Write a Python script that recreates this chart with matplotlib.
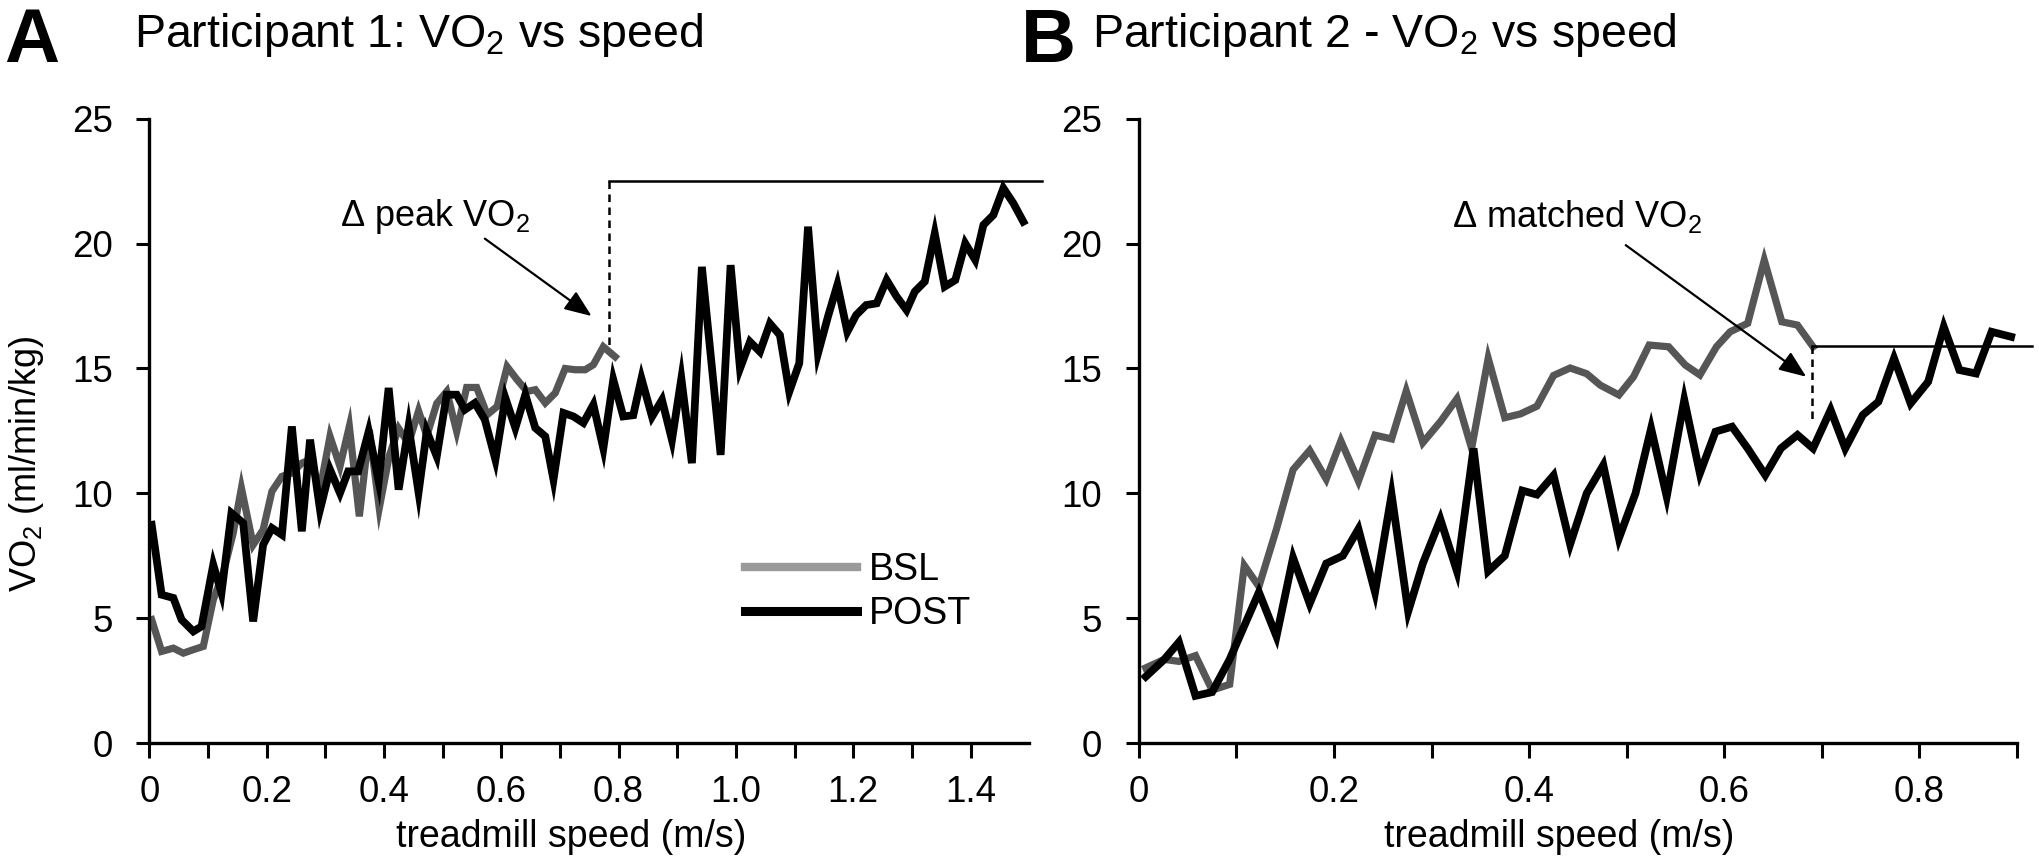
import matplotlib
matplotlib.use("Agg")
import matplotlib.pyplot as plt
from matplotlib.lines import Line2D
from matplotlib.ticker import FixedLocator

plt.rcParams['font.family'] = ['Liberation Sans', 'DejaVu Sans']
plt.rcParams['mathtext.fontset'] = 'custom'
plt.rcParams['mathtext.rm'] = 'Liberation Sans'
plt.rcParams['mathtext.it'] = 'Liberation Sans:italic'
plt.rcParams['mathtext.default'] = 'regular'

# ---------------- data ----------------
# Panel A: Participant 1
a_bsl_x = [0.004, 0.021, 0.041, 0.058, 0.075, 0.092, 0.109, 0.126, 0.143, 0.157,
           0.177, 0.194, 0.209, 0.226, 0.243, 0.260, 0.274, 0.291, 0.308, 0.325,
           0.341, 0.358, 0.375, 0.392, 0.409, 0.425, 0.442, 0.459, 0.473, 0.490,
           0.507, 0.524, 0.541, 0.558, 0.576, 0.593, 0.610, 0.627, 0.644, 0.658,
           0.675, 0.692, 0.709, 0.726, 0.743, 0.757, 0.774, 0.794]
a_bsl_y = [4.94, 3.67, 3.80, 3.60, 3.74, 3.87, 5.74, 6.81, 8.41, 10.21,
           7.94, 8.54, 10.08, 10.68, 10.81, 11.21, 11.35, 10.15, 12.28, 11.08,
           12.68, 9.08, 12.55, 9.41, 11.5, 12.6, 12.0, 13.3, 12.3, 13.6,
           14.08, 12.48, 14.24, 14.24, 13.15, 13.48, 15.07, 14.55, 14.08, 14.15,
           13.62, 14.02, 15.0, 14.95, 14.95, 15.15, 15.87, 15.47]

a_post_x = [0.004, 0.021, 0.041, 0.055, 0.075, 0.089, 0.109, 0.123, 0.140, 0.160,
            0.177, 0.194, 0.209, 0.226, 0.243, 0.260, 0.274, 0.291, 0.308, 0.325,
            0.339, 0.356, 0.374, 0.391, 0.408, 0.425, 0.442, 0.459, 0.473, 0.490,
            0.507, 0.524, 0.538, 0.555, 0.572, 0.590, 0.607, 0.624, 0.641, 0.658,
            0.675, 0.689, 0.706, 0.723, 0.740, 0.757, 0.774, 0.791, 0.808, 0.825,
            0.839, 0.857, 0.874, 0.891, 0.907, 0.925, 0.942, 0.974, 0.991, 1.007,
            1.024, 1.041, 1.058, 1.075, 1.091, 1.108, 1.123, 1.140, 1.157, 1.173,
            1.190, 1.205, 1.222, 1.240, 1.257, 1.274, 1.291, 1.305, 1.322, 1.339,
            1.356, 1.374, 1.391, 1.408, 1.422, 1.439, 1.456, 1.473, 1.490]
a_post_y = [8.74, 5.94, 5.81, 4.94, 4.47, 4.67, 7.14, 6.01, 9.21, 8.81,
            4.87, 7.94, 8.61, 8.34, 12.68, 8.48, 12.15, 9.35, 10.95, 10.01,
            10.88, 10.88, 12.48, 10.48, 14.22, 10.15, 12.68, 10.04, 12.48, 11.48,
            13.95, 13.95, 13.35, 13.62, 12.95, 11.35, 13.82, 12.62, 13.95, 12.62,
            12.28, 10.55, 13.22, 13.08, 12.82, 13.55, 11.80, 14.55, 13.08, 13.13,
            14.6, 13.07, 13.74, 12.14, 14.6, 11.21, 19.07, 11.54, 19.14, 15.0,
            16.07, 15.67, 16.8, 16.34, 14.07, 15.21, 20.68, 15.61, 17.08, 18.35,
            16.47, 17.14, 17.54, 17.61, 18.54, 17.88, 17.34, 18.08, 18.48, 20.41,
            18.28, 18.54, 20.01, 19.35, 20.75, 21.15, 22.22, 21.62, 20.88]

# Panel B: Participant 2
b_bsl_x = [0.007, 0.026, 0.041, 0.058, 0.075, 0.093, 0.108, 0.123, 0.141, 0.158,
           0.175, 0.192, 0.207, 0.225, 0.242, 0.259, 0.274, 0.291, 0.309, 0.326,
           0.341, 0.358, 0.375, 0.391, 0.408, 0.425, 0.442, 0.459, 0.473, 0.492,
           0.507, 0.523, 0.543, 0.560, 0.575, 0.592, 0.606, 0.624, 0.641, 0.659,
           0.675, 0.691]
b_bsl_y = [3.01, 3.35, 3.27, 3.50, 2.12, 2.35, 7.11, 6.27, 8.57, 10.95,
           11.72, 10.57, 12.10, 10.49, 12.33, 12.18, 14.10, 12.03, 12.87, 13.79,
           11.80, 15.41, 13.03, 13.18, 13.49, 14.72, 15.02, 14.79, 14.33, 13.94,
           14.67, 15.94, 15.87, 15.14, 14.74, 15.87, 16.47, 16.81, 19.34, 16.87,
           16.74, 15.87]

b_post_x = [0.007, 0.026, 0.041, 0.058, 0.075, 0.093, 0.123, 0.141, 0.158, 0.175,
            0.192, 0.209, 0.225, 0.242, 0.259, 0.276, 0.291, 0.309, 0.326, 0.343,
            0.358, 0.375, 0.393, 0.408, 0.425, 0.442, 0.459, 0.476, 0.492, 0.509,
            0.525, 0.541, 0.559, 0.575, 0.591, 0.608, 0.624, 0.642, 0.658, 0.675,
            0.691, 0.709, 0.724, 0.742, 0.758, 0.774, 0.791, 0.809, 0.825, 0.841,
            0.858, 0.874, 0.894]
b_post_y = [2.66, 3.35, 4.04, 1.89, 2.04, 3.35, 6.04, 4.27, 7.42, 5.58,
            7.19, 7.50, 8.57, 6.04, 9.95, 5.27, 7.19, 8.96, 6.88, 11.80,
            6.88, 7.50, 10.11, 9.95, 10.72, 7.96, 10.0, 11.13, 8.20, 10.0,
            12.60, 9.87, 13.74, 10.80, 12.47, 12.67, 11.80, 10.73, 11.80, 12.34,
            11.80, 13.34, 11.80, 13.14, 13.67, 15.41, 13.60, 14.47, 16.67, 14.94,
            14.80, 16.47, 16.27]

# annotation geometry (data units)
a_peak_level = 22.52
a_peak_x = [0.783, 1.522]
a_drop_y = [22.52, 15.87]
a_arrow_tail = (0.572, 20.2)
a_arrow_head = (0.754, 17.1)
a_text_pos = (0.325, 20.7)

b_match_level = 15.9
b_match_x = [0.690, 0.915]
b_drop_y = [15.9, 12.9]
b_arrow_tail = (0.499, 19.94)
b_arrow_head = (0.684, 14.67)
b_text_pos = (0.3205, 20.65)

y_ticks = [0, 5, 10, 15, 20, 25]
a_xticks = [0, 0.2, 0.4, 0.6, 0.8, 1.0, 1.2, 1.4]
a_xticklabels = ['0', '0.2', '0.4', '0.6', '0.8', '1.0', '1.2', '1.4']
a_xminor = [0.1, 0.3, 0.5, 0.7, 0.9, 1.1, 1.3]
b_xticks = [0, 0.2, 0.4, 0.6, 0.8]
b_xticklabels = ['0', '0.2', '0.4', '0.6', '0.8']
b_xminor = [0.1, 0.3, 0.5, 0.7, 0.9]

# ---------------- styling ----------------
BSL_COLOR = '#565656'
BSL_LEG_COLOR = '#9a9a9a'
POST_COLOR = '#000000'
TICK_FS = 26.5
LABEL_FS = 27
TITLE_FS = 33.5
ANN_FS = 26
LEG_FS = 27

fig = plt.figure(figsize=(20.4, 8.64), dpi=100)
axA = fig.add_axes([0.0732, 0.1400, 0.4313, 0.7225])
axB = fig.add_axes([0.5583, 0.1400, 0.4304, 0.7225])


def style_axis(ax, xmax, majors, labels, minors):
    ax.set_xlim(0, xmax)
    ax.set_ylim(0, 25)
    for s in ('top', 'right'):
        ax.spines[s].set_visible(False)
    for s in ('left', 'bottom'):
        ax.spines[s].set_linewidth(2.4)
        ax.spines[s].set_color('black')
    ax.set_yticks(y_ticks)
    ax.set_yticklabels([str(v) for v in y_ticks])
    ax.xaxis.set_major_locator(FixedLocator(majors))
    ax.set_xticklabels(labels)
    ax.xaxis.set_minor_locator(FixedLocator(minors))
    ax.tick_params(axis='x', which='both', direction='out', length=11, width=2.2,
                   pad=12, labelsize=TICK_FS)
    ax.tick_params(axis='y', which='major', direction='out', length=9.5, width=2.2,
                   pad=17, labelsize=TICK_FS)
    ax.set_xlabel('treadmill speed (m/s)', fontsize=LABEL_FS)
    ax.xaxis.set_label_coords(0.479, -0.122)
    ax.xaxis.label.set_va('top')


ARROW = '-|>,head_length=0.55,head_width=0.22'

# Panel A
axA.plot(a_bsl_x, a_bsl_y, color=BSL_COLOR, lw=5.2, solid_joinstyle='miter', zorder=2)
axA.plot(a_post_x, a_post_y, color=POST_COLOR, lw=5.6, solid_joinstyle='miter', zorder=3)
style_axis(axA, 1.5, a_xticks, a_xticklabels, a_xminor)
axA.set_ylabel('VO$_2$ (ml/min/kg)', fontsize=26)
axA.yaxis.set_label_coords(-0.117, 0.447)

axA.plot(a_peak_x, [a_peak_level, a_peak_level], color='black', lw=1.8, clip_on=False, zorder=4)
axA.plot([a_peak_x[0], a_peak_x[0]], a_drop_y, color='black', lw=1.8, ls=(0, (3, 2.2)), zorder=4)
axA.annotate('', xy=a_arrow_head, xytext=a_arrow_tail,
             arrowprops=dict(arrowstyle=ARROW, color='black', lw=1.6,
                             mutation_scale=30, shrinkA=0, shrinkB=0))
axA.text(a_text_pos[0], a_text_pos[1], '\u0394 peak VO$_2$', fontsize=ANN_FS, va='baseline', ha='left')

legend_handles = [Line2D([], [], color=BSL_LEG_COLOR, lw=6),
                  Line2D([], [], color=POST_COLOR, lw=6.5)]
axA.legend(legend_handles, ['BSL', 'POST'], loc='upper left', bbox_to_anchor=(0.677, 0.306),
           frameon=False, fontsize=LEG_FS, handlelength=3.0, handletextpad=0.3,
           labelspacing=0.22, borderpad=0, borderaxespad=0)

# Panel B
axB.plot(b_bsl_x, b_bsl_y, color=BSL_COLOR, lw=5.2, solid_joinstyle='miter', zorder=2)
axB.plot(b_post_x, b_post_y, color=POST_COLOR, lw=5.6, solid_joinstyle='miter', zorder=3)
style_axis(axB, 0.9, b_xticks, b_xticklabels, b_xminor)

axB.plot(b_match_x, [b_match_level, b_match_level], color='black', lw=1.8, clip_on=False, zorder=4)
axB.plot([b_match_x[0], b_match_x[0]], b_drop_y, color='black', lw=1.8, ls=(0, (3, 2.2)), zorder=4)
axB.annotate('', xy=b_arrow_head, xytext=b_arrow_tail,
             arrowprops=dict(arrowstyle=ARROW, color='black', lw=1.6,
                             mutation_scale=30, shrinkA=0, shrinkB=0))
axB.text(b_text_pos[0], b_text_pos[1], '\u0394 matched VO$_2$', fontsize=ANN_FS, va='baseline', ha='left')

# Panel letters and titles
fig.text(0.0022, 0.9286, 'A', fontsize=55, fontweight='bold', va='baseline', ha='left')
fig.text(0.0655, 0.9456, 'Participant 1: VO$_2$ vs speed', fontsize=TITLE_FS, va='baseline', ha='left')
fig.text(0.5005, 0.9286, 'B', fontsize=55, fontweight='bold', va='baseline', ha='left')
fig.text(0.5355, 0.9456, 'Participant 2 - VO$_2$ vs speed', fontsize=TITLE_FS, va='baseline', ha='left')

fig.savefig('out.png', dpi=100)
